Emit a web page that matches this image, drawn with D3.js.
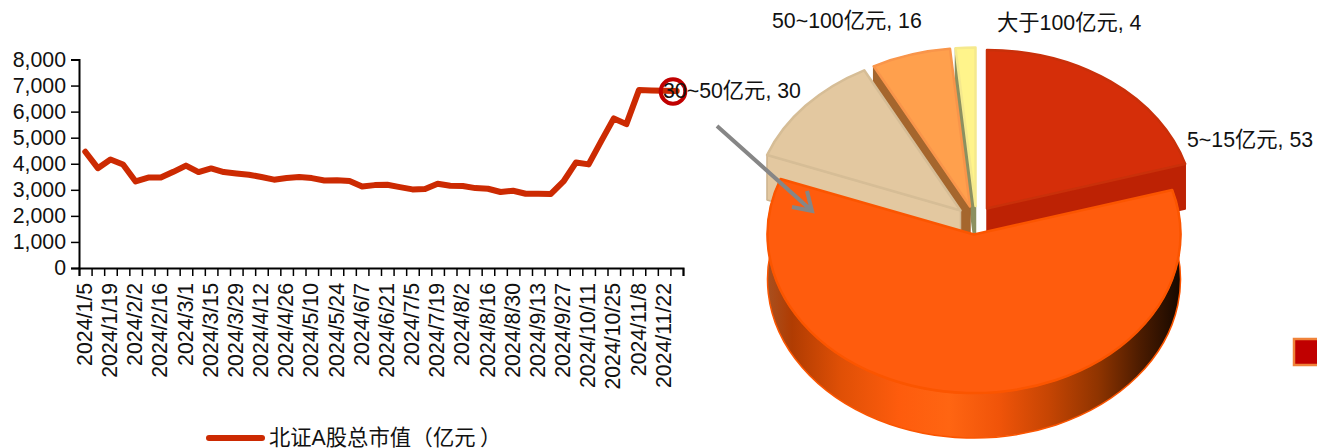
<!DOCTYPE html>
<html><head><meta charset="utf-8">
<script src="https://cdn.jsdelivr.net/npm/d3@7/dist/d3.min.js"></script>
<style>
html,body{margin:0;padding:0;background:#fff;overflow:hidden}
svg{display:block}
text{font-family:"Liberation Sans","Noto Sans CJK SC",sans-serif;font-size:21.3px;fill:#111}
</style></head><body>
<svg id="c" width="1317" height="448"></svg>
<script>
const dates=["2024/1/5","2024/1/12","2024/1/19","2024/1/26","2024/2/2","2024/2/9","2024/2/16","2024/2/23","2024/3/1","2024/3/8","2024/3/15","2024/3/22","2024/3/29","2024/4/3","2024/4/12","2024/4/19","2024/4/26","2024/4/30","2024/5/10","2024/5/17","2024/5/24","2024/5/31","2024/6/7","2024/6/14","2024/6/21","2024/6/28","2024/7/5","2024/7/12","2024/7/19","2024/7/26","2024/8/2","2024/8/9","2024/8/16","2024/8/23","2024/8/30","2024/9/6","2024/9/13","2024/9/20","2024/9/27","2024/9/30","2024/10/11","2024/10/18","2024/10/25","2024/11/1","2024/11/8","2024/11/15","2024/11/22","2024/11/29"];
const marketCap=[4460,3830,4160,3970,3320,3470,3470,3690,3930,3680,3820,3680,3630,3580,3490,3390,3450,3490,3450,3360,3370,3335,3130,3180,3195,3105,3015,3030,3230,3155,3145,3065,3040,2915,2965,2850,2850,2840,3320,4050,3975,4870,5740,5520,6825,6810,6800,6790];
const yTicks=[0,1000,2000,3000,4000,5000,6000,7000,8000];
const seriesNameParts=["北证A股总市值","（","亿元","）"];
const pieNames=["5~15亿元","15~30亿元","30~50亿元","50~100亿元","大于100亿元"];
const pieValues=[53,156,30,16,4];

const svg=d3.select("#c");
const lineRed="#CC2A02";
const x=d3.scaleBand().domain(dates).range([79,683]);
const y=d3.scaleLinear().domain([0,8000]).range([268,59.5]);
const slots=d3.scaleLinear().domain([0,dates.length]).range([79,683]);

const gy=svg.append("g").attr("transform","translate(79,0)")
 .call(d3.axisLeft(y).tickValues(yTicks).tickFormat(d3.format(",")).tickSize(8).tickPadding(5));
const gx=svg.append("g").attr("transform","translate(0,268)")
 .call(d3.axisBottom(slots).ticks(dates.length).tickFormat("").tickSize(8));
const gl=svg.append("g").attr("transform","translate(0,268)")
 .call(d3.axisBottom(x).tickValues(dates.filter((d,i)=>i%2===0)).tickSize(0));
gl.select(".domain").remove();
gl.selectAll("text").attr("transform","rotate(-90)").attr("text-anchor","end").attr("x",-15).attr("y",-1).attr("dy","0.36em");
[gx,gy].forEach(g=>{g.selectAll(".domain,.tick line").attr("stroke","#000").attr("stroke-width",1.5);
 g.select(".domain").attr("stroke-width",2);});
svg.selectAll("g text").style("font-size","21.3px").attr("fill","#111").attr("font-family",null);

svg.append("path").datum(marketCap)
 .attr("d",d3.line().x((d,i)=>x(dates[i])+x.bandwidth()/2).y(d=>y(d)))
 .attr("fill","none").attr("stroke",lineRed).attr("stroke-width",6).attr("stroke-linejoin","round").attr("stroke-linecap","round");

svg.append("circle").attr("cx",673).attr("cy",91.5).attr("r",12.3).attr("fill","none").attr("stroke","#C00000").attr("stroke-width",4);

svg.append("line").attr("x1",209).attr("x2",262).attr("y1",438).attr("y2",438).attr("stroke",lineRed).attr("stroke-width",6).attr("stroke-linecap","round");
const legendX=[269,411.5,433,480];
const legendText=svg.append("text").attr("y",445);
seriesNameParts.forEach((t,i)=>legendText.append("tspan").attr("x",legendX[i]).text(t));

const rx=206.5, ry=158.5, depth=45;
const pie=d3.pie().sort(null).value(d=>d)(pieValues);
const arc=d3.arc().innerRadius(0).outerRadius(rx);
const sliceStyle=[
 {cx:987,  cy:208.5,top:"#D52E09",stroke:"#C9300A",wall:"#BD2204",wallStroke:"#BD2204",outer:"#BD2204"},
 {cx:974,  cy:234.5,top:"#FF5C0D",stroke:"#FB5500",wall:"#FF5C0D",wallStroke:"#FB5500",outer:"url(#og)"},
 {cx:960.5,cy:210.5,top:"#E3C8A0",stroke:"#D6BD96",wall:"#E3C8A0",wallStroke:"#CFB590",outer:"#E3C8A0"},
 {cx:970,  cy:206.5,top:"#FFA04D",stroke:"#F9954A",wall:"#A5662D",wallStroke:"#A5662D",outer:"#A5662D"},
 {cx:975.5,cy:206,  top:"#FFF48B",stroke:"#F5E98D",wall:"#8C9060",wallStroke:"#8C9060",outer:"#FFF48B"}
];
const defs=svg.append("defs");
const og=defs.append("linearGradient").attr("id","og").attr("gradientUnits","userSpaceOnUse")
 .attr("x1",767).attr("x2",1181).attr("y1",0).attr("y2",0);
[[0,"#A85020"],[.06,"#B03C02"],[.18,"#E05006"],[.32,"#FE5C0D"],[.44,"#FF6512"],[.56,"#F05409"],[.68,"#C64503"],[.8,"#8F3400"],[.9,"#4D1C00"],[1,"#150800"]]
 .forEach(s=>og.append("stop").attr("offset",s[0]).attr("stop-color",s[1]));

const pt=(s,a,d=0)=>[s.cx+rx*Math.sin(a),s.cy-ry*Math.cos(a)+d];
function drawSlice(i){
 const p=pie[i], s=sliceStyle[i], g=svg.append("g");
 const a0=p.startAngle,a1=p.endAngle,large=(a1-a0)>Math.PI?1:0;
 const A=pt(s,a0),B=pt(s,a1),Ad=pt(s,a0,depth),Bd=pt(s,a1,depth);
 g.append("path").attr("d",`M${A}A${rx},${ry} 0 ${large} 1 ${B}L${Bd}A${rx},${ry} 0 ${large} 0 ${Ad}Z`)
  .attr("fill",s.outer).attr("stroke",i===1?"#FB5500":s.wallStroke).attr("stroke-width",i===1?1.5:1);
 [a0,a1].filter((a,k)=>k===0?a>Math.PI:a<Math.PI).forEach(a=>{
  const E=pt(s,a),Ed=pt(s,a,depth);
  g.append("path").attr("d",`M${s.cx},${s.cy}L${E}L${Ed}L${s.cx},${s.cy+depth}Z`)
   .attr("fill",s.wall).attr("stroke",s.wallStroke).attr("stroke-width",1.5).attr("stroke-linejoin","round");
 });
 g.append("path").attr("d",arc(p)).attr("transform",`translate(${s.cx},${s.cy}) scale(1,${ry/rx})`)
  .attr("fill",s.top).attr("stroke",s.stroke).attr("stroke-width",2.5).attr("vector-effect","non-scaling-stroke").attr("stroke-linejoin","round");
}
[0,4,3,2,1].forEach(drawSlice);

svg.append("rect").attr("x",1294).attr("y",339).attr("width",30).attr("height",26).attr("fill","#C00000").attr("stroke","#F0833A").attr("stroke-width",2.5);

svg.append("path").attr("d","M717,126L812,211M807,191L812,211L792,207")
 .attr("fill","none").attr("stroke","#868686").attr("stroke-width",4).attr("stroke-linejoin","miter");

const labelPos=[[1187,147],null,[663,98],[772,28],[997,30]];
pie.forEach((p,i)=>{ if(labelPos[i]) svg.append("text").attr("x",labelPos[i][0]).attr("y",labelPos[i][1]).text(pieNames[i]+", "+pieValues[i]); });
</script></body></html>
